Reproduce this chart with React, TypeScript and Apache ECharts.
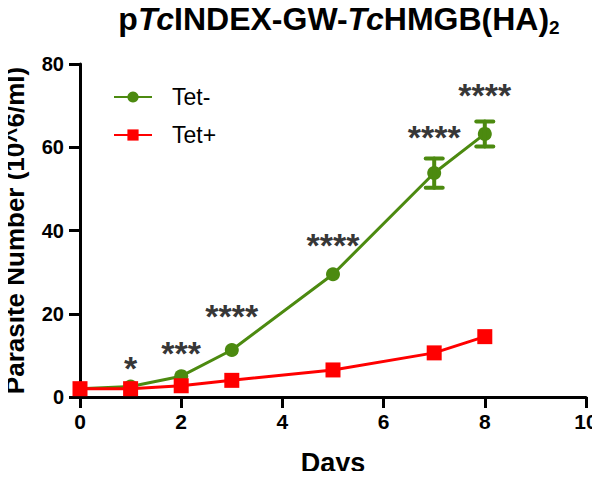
import React, { useEffect, useRef } from "react";
import * as echarts from "echarts";

const days = [0, 1, 2, 3, 5, 7, 8];
const tetMinus = [2, 2.5, 5, 11.3, 29.5, 53.8, 63.2];
const tetMinusErr = [0, 0, 0.3, 0.4, 0.5, 3.5, 3];
const tetPlus = [2, 2, 2.7, 4, 6.5, 10.6, 14.5];
const starDays = [1, 2, 3, 5, 7, 8];
const starY = [7.5, 11, 20, 37, 63, 73];
const starText = ["*", "***", "****", "****", "****", "****"];

const FONT = "'Liberation Sans', Arial, sans-serif";
const GREEN = "#4c8a10";
const RED = "#ff0000";

export default function App() {
  const ref = useRef<HTMLDivElement>(null);
  useEffect(() => {
    if (!ref.current) return;
    const chart = echarts.init(ref.current, undefined, { renderer: "svg" });
    const errData = days.map((d, i) => [d, tetMinus[i] - tetMinusErr[i], tetMinus[i] + tetMinusErr[i]]).filter((_, i) => tetMinusErr[i] > 1);
    chart.setOption({
      animation: false,
      backgroundColor: "#fff",
      title: {
        text: "p{i|Tc}INDEX-GW-{i|Tc}HMGB(HA){s|2}",
        left: 334,
        textAlign: "center",
        top: -4,
        textStyle: {
          fontFamily: FONT,
          fontWeight: "bold",
          fontSize: 32,
          lineHeight: 36,
          color: "#000",
          rich: {
            i: { fontFamily: FONT, fontWeight: "bold", fontStyle: "italic", fontSize: 32, lineHeight: 36, color: "#000" },
            s: { fontFamily: FONT, fontWeight: "bold", fontSize: 19, lineHeight: 14, verticalAlign: "bottom", color: "#000" },
          },
        },
      },
      legend: {
        orient: "vertical",
        left: 108,
        top: 80,
        itemWidth: 38,
        itemHeight: 14,
        itemGap: 14,
        textStyle: { fontFamily: FONT, fontSize: 23, lineHeight: 24, color: "#000", padding: [0, 0, 0, 15] },
        data: ["Tet-", "Tet+"],
      },
      grid: { left: 80, right: 14, top: 64, bottom: 82, outerBoundsMode: "none" },
      xAxis: {
        type: "value",
        min: 0,
        max: 10,
        interval: 2,
        name: "Days",
        nameLocation: "middle",
        nameGap: 52,
        nameTextStyle: { fontFamily: FONT, fontWeight: "bold", fontSize: 27, color: "#000" },
        axisLine: { lineStyle: { color: "#000", width: 3 } },
        axisTick: { length: 11, lineStyle: { color: "#000", width: 3 } },
        axisLabel: { fontFamily: FONT, fontWeight: "bold", fontSize: 21, color: "#000", margin: 14 },
        splitLine: { show: false },
      },
      yAxis: {
        type: "value",
        min: 0,
        max: 80,
        interval: 20,
        name: "Parasite Number (10^6/ml)",
        nameLocation: "middle",
        nameGap: 52,
        nameTextStyle: { fontFamily: FONT, fontWeight: "bold", fontSize: 26, color: "#000" },
        axisLine: { show: true, lineStyle: { color: "#000", width: 3 } },
        axisTick: { show: true, length: 11, lineStyle: { color: "#000", width: 3 } },
        axisLabel: { fontFamily: FONT, fontWeight: "bold", fontSize: 20, color: "#000", margin: 16 },
        splitLine: { show: false },
      },
      series: [
        {
          name: "Tet-",
          type: "line",
          data: days.map((d, i) => [d, tetMinus[i]]),
          symbol: "circle",
          symbolSize: 14,
          lineStyle: { color: GREEN, width: 3 },
          itemStyle: { color: GREEN },
          z: 3,
        },
        {
          name: "Tet+",
          type: "line",
          data: days.map((d, i) => [d, tetPlus[i]]),
          symbol: "rect",
          symbolSize: 15,
          lineStyle: { color: RED, width: 3 },
          itemStyle: { color: RED },
          z: 4,
        },
        {
          name: "err",
          type: "custom",
          data: errData,
          z: 5,
          renderItem: (params: any, api: any) => {
            const x = api.value(0);
            const lo = api.coord([x, api.value(1)]);
            const hi = api.coord([x, api.value(2)]);
            const w = 8.5;
            const st = { stroke: GREEN, lineWidth: 4, lineCap: "round" };
            return {
              type: "group",
              children: [
                { type: "line", shape: { x1: lo[0], y1: lo[1], x2: hi[0], y2: hi[1] }, style: st },
                { type: "line", shape: { x1: lo[0] - w, y1: lo[1], x2: lo[0] + w, y2: lo[1] }, style: st },
                { type: "line", shape: { x1: hi[0] - w, y1: hi[1], x2: hi[0] + w, y2: hi[1] }, style: st },
              ],
            };
          },
        },
        {
          name: "stars",
          type: "scatter",
          data: starDays.map((d, i) => ({ value: [d, starY[i]], label: { formatter: starText[i] } })),
          symbolSize: 1,
          itemStyle: { color: "transparent" },
          label: {
            show: true,
            position: "inside",
            fontFamily: FONT,
            fontWeight: "bold",
            fontSize: 34,
            color: "#000",
            offset: [0, 2],
          },
          silent: true,
        },
      ],
    });
    return () => chart.dispose();
  }, []);
  return <div ref={ref} style={{ width: 600, height: 479, margin: -8 }} />;
}
